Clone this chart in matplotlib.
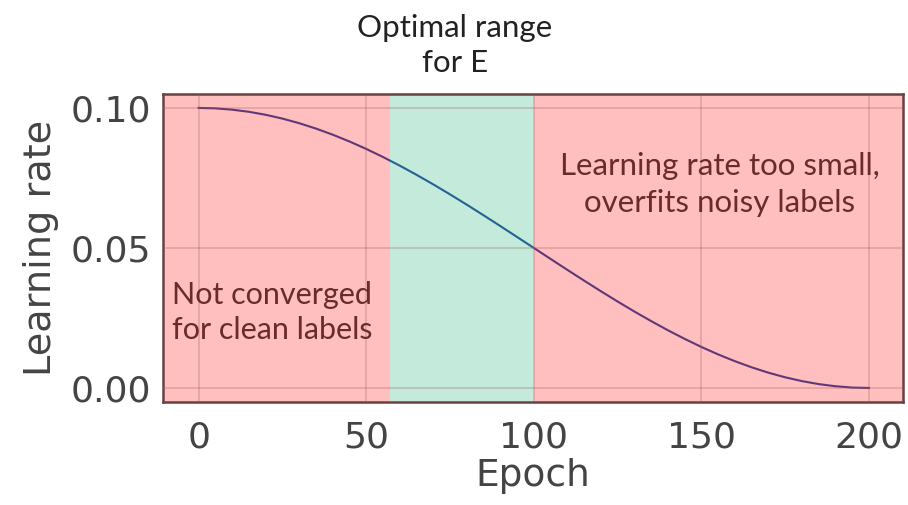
import numpy as np
import matplotlib
matplotlib.use('Agg')
import matplotlib.pyplot as plt

# learning rate, every 5 epochs
epochs = list(range(0, 201, 5))
lr = [0.10000, 0.09985, 0.09938, 0.09862, 0.09755, 0.09619, 0.09455, 0.09263, 0.09045,
      0.08802, 0.08536, 0.08247, 0.07939, 0.07612, 0.07270, 0.06913, 0.06545, 0.06167,
      0.05782, 0.05392, 0.05000, 0.04608, 0.04218, 0.03833, 0.03455, 0.03087, 0.02730,
      0.02388, 0.02061, 0.01753, 0.01464, 0.01198, 0.00955, 0.00737, 0.00545, 0.00381,
      0.00245, 0.00138, 0.00062, 0.00015, 0.00000]

opt_start = 57
opt_end = 100
xticks = [0, 50, 100, 150, 200]
yticks = [0.00, 0.05, 0.10]

fig, ax = plt.subplots(figsize=(9.08, 5.05), dpi=100)
fig.subplots_adjust(left=0.18, right=0.994, top=0.814, bottom=0.204)

ax.plot(epochs, lr, color='#2b4aa0', lw=1.5, zorder=1)
ax.set_xlim(-10.5, 210)
ax.set_ylim(-0.005, 0.105)

ax.axvspan(-10.5, opt_start, color='red', alpha=0.25, lw=0, zorder=2)
ax.axvspan(opt_start, opt_end, color='#10ad6c', alpha=0.25, lw=0, zorder=2)
ax.axvspan(opt_end, 210, color='red', alpha=0.25, lw=0, zorder=2)

ax.grid(True, color='#a05858', alpha=0.3, lw=1.2, zorder=3)
ax.set_axisbelow(False)

ax.set_xticks(xticks)
ax.set_yticks(yticks)
ax.set_yticklabels(['0.00', '0.05', '0.10'])
ax.tick_params(labelsize=26, colors='#444444', length=0)
ax.tick_params(axis='x', pad=13)
ax.tick_params(axis='y', pad=9)
ax.set_xlabel('Epoch', fontsize=27, color='#444444', labelpad=3)
ax.set_ylabel('Learning rate', fontsize=27.5, color='#444444', labelpad=8)

for s in ax.spines.values():
    s.set_color('#6a4040')
    s.set_linewidth(1.8)

tfont = 'Lato'
ax.text(22, 0.0268, 'Not converged\nfor clean labels', fontsize=22,
        family=tfont, color='#6b2b2b', ha='center', va='center', linespacing=1.3)
ax.text(155.5, 0.0728, 'Learning rate too small,\noverfits noisy labels', fontsize=22.5,
        family=tfont, color='#6b2b2b', ha='center', va='center', linespacing=1.4)
ax.text(76.5, 0.1222, 'Optimal range\nfor E', fontsize=22.5,
        family=tfont, color='#222222', ha='center', va='center', linespacing=1.3)

plt.savefig('out.png', dpi=100)
